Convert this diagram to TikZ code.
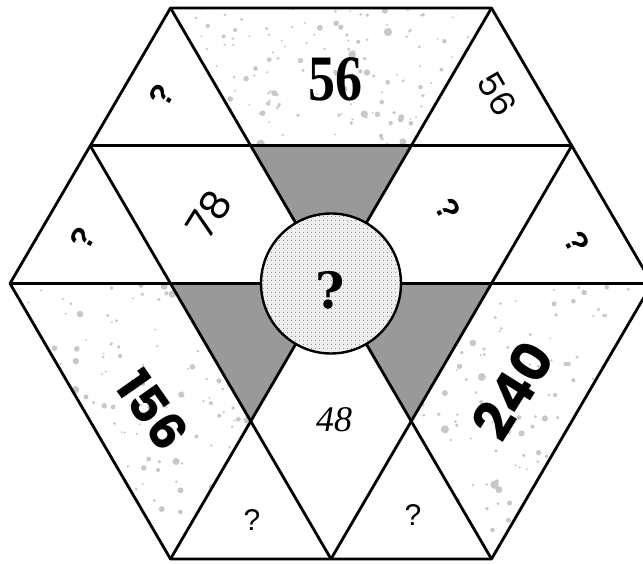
\documentclass[tikz,border=0pt]{standalone}
\usepackage{fontspec}
\usetikzlibrary{patterns.meta}
\newfontfamily\handfont{Poppins}
\newfontfamily\boldserif{Liberation Serif}
\newfontfamily\heavyserif{DejaVu Serif}
\newfontfamily\plainsans{Liberation Sans}
\definecolor{darkfill}{RGB}{153,153,153}
\definecolor{speck}{RGB}{200,200,200}
\definecolor{circfill}{RGB}{238,238,238}
\newcommand\myspeckle[5]{%
  \pgfmathsetseed{#5}%
  \foreach \i in {1,...,170}{%
    \pgfmathsetmacro\dx{#1+#3*rnd}%
    \pgfmathsetmacro\dy{#2+#4*rnd}%
    \pgfmathsetmacro\dr{1+3.4*rnd*rnd}%
    \fill[speck] (\dx,\dy) circle[radius=\dr pt];
  }}
\begin{document}
\begin{tikzpicture}[x=1pt,y=-1pt,line join=round,
  gridline/.style={line width=2.8pt,black},
  darktri/.style={fill=darkfill},
  smallq/.style={font=\plainsans\bfseries\fontsize{32}{32}\selectfont,inner sep=0pt},
  midnum/.style={font=\handfont\fontsize{40}{40}\selectfont,inner sep=0pt},
  bignum/.style={font=\handfont\bfseries\fontsize{50}{50}\selectfont,inner sep=0pt},
  topnum/.style={font=\boldserif\bfseries\fontsize{54}{54}\selectfont,inner sep=0pt},
  italnum/.style={font=\boldserif\itshape\fontsize{36}{36}\selectfont,inner sep=0pt},
  lowq/.style={font=\plainsans\fontsize{30}{30}\selectfont,inner sep=0pt},
  centreq/.style={font=\heavyserif\bfseries\fontsize{50}{50}\selectfont,inner sep=0pt}]
\useasboundingbox (0,0) rectangle (643,564);
\fill[white] (0,0) rectangle (643,564);
% grid points
\coordinate (A) at (170.5,8);
\coordinate (B) at (491.5,8);
\coordinate (L) at (10,283.5);
\coordinate (Lm) at (170.5,283.5);
\coordinate (O) at (331,283.5);
\coordinate (Rm) at (491.5,283.5);
\coordinate (R) at (652,283.5);
\coordinate (C) at (170.5,559);
\coordinate (Mb) at (331,559);
\coordinate (D) at (491.5,559);
\coordinate (P1) at (90.25,145.75);
\coordinate (P2) at (250.75,145.75);
\coordinate (P3) at (411.25,145.75);
\coordinate (P4) at (571.75,145.75);
\coordinate (Q2) at (250.75,421.25);
\coordinate (Q3) at (411.25,421.25);
% speckled trapezoids
\begin{scope}
  \clip (A)--(B)--(P3)--(P2)--cycle;
  \myspeckle{170}{8}{322}{138}{11}
\end{scope}
\begin{scope}
  \clip (L)--(Lm)--(Q2)--(C)--cycle;
  \myspeckle{10}{283}{241}{276}{23}
\end{scope}
\begin{scope}
  \clip (Rm)--(R)--(D)--(Q3)--cycle;
  \myspeckle{411}{283}{241}{276}{37}
\end{scope}
% dark triangles
\fill[darktri] (P2)--(P3)--(O)--cycle;
\fill[darktri] (Lm)--(O)--(Q2)--cycle;
\fill[darktri] (O)--(Rm)--(Q3)--cycle;
% grid lines
\draw[gridline] (A)--(B)--(R)--(D)--(C)--(L)--cycle;
\draw[gridline] (P1)--(P4);
\draw[gridline] (L)--(R);
\draw[gridline] (A)--(D);
\draw[gridline] (B)--(C);
\draw[gridline] (P1)--(Mb);
\draw[gridline] (P4)--(Mb);
% centre circle
\fill[circfill] (O) circle[radius=70pt];
\fill[pattern={Dots[distance=4pt,radius=0.6pt]},pattern color=black!55] (O) circle[radius=70pt];
\draw[line width=2.4pt] (O) circle[radius=70pt];
% labels
\node[topnum] (n56big) at (335,79) {\scalebox{1}[1.2]{56}};
\node[smallq,rotate=60] (qtl) at (162,95) {?};
\node[smallq,rotate=60] (ql) at (83,238) {?};
\node[midnum,rotate=58] (n78) at (209,214) {78};
\node[smallq,rotate=-60] (qr) at (448,209) {?};
\node[smallq,rotate=-60] (qrr) at (577,242) {?};
\node[midnum,rotate=-60,font=\handfont\fontsize{34}{34}\selectfont] (n56s) at (497,94) {56};
\node[bignum,rotate=-55] (n156) at (153,410) {156};
\node[bignum,rotate=58,font=\handfont\bfseries\fontsize{54}{54}\selectfont] (n240) at (513,390) {240};
\node[italnum] (n48) at (334,420) {48};
\node[lowq] (qbl) at (252,520) {?};
\node[lowq] (qbr) at (413,515) {?};
\node[centreq] (qc) at (330,290) {?};
\end{tikzpicture}
\end{document}
